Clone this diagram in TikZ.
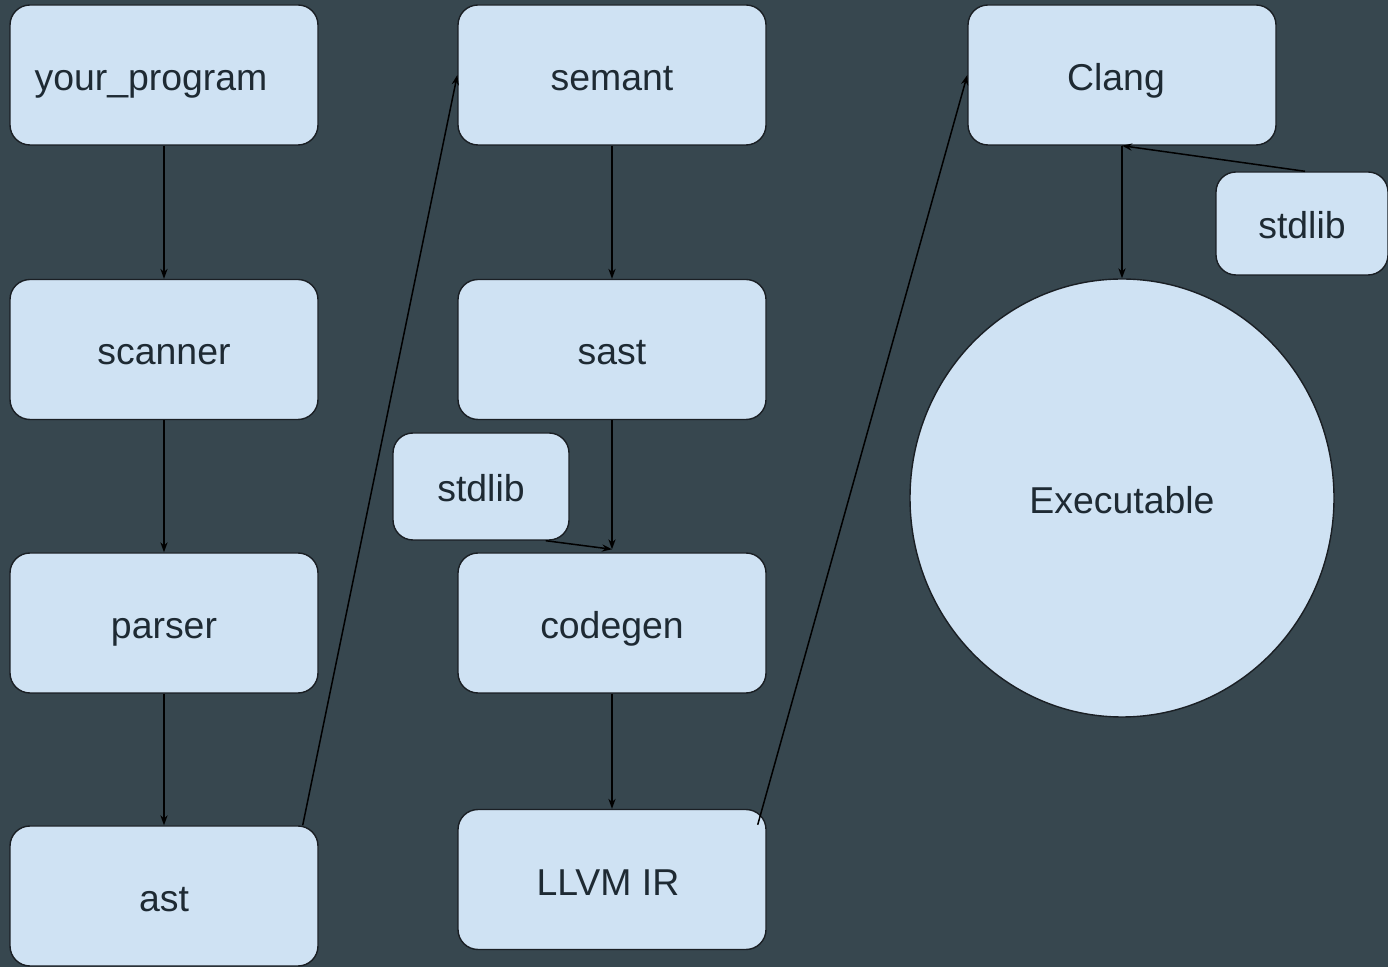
\documentclass[tikz,border=0pt]{standalone}
\usepackage{fontspec}
\setmainfont{Liberation Sans}
\usetikzlibrary{arrows.meta,shapes.geometric}
\definecolor{bgc}{HTML}{37474F}
\definecolor{boxc}{HTML}{CFE2F3}
\definecolor{txtc}{HTML}{1E2A33}
\definecolor{edgec}{HTML}{1A1F24}
\tikzset{
  blk/.style={draw=edgec, line width=0.7pt, fill=boxc, rounded corners=10pt,
    minimum width=154pt, minimum height=70pt, inner sep=0pt, text=txtc,
    text height=16pt, text depth=0.5pt,
    font=\fontsize{18.7}{22}\selectfont},
  lib/.style={blk, minimum width=88pt, minimum height=53.5pt},
  lib2/.style={blk, minimum width=86pt, minimum height=51.5pt},
  circ/.style={draw=edgec, line width=0.7pt, fill=boxc, ellipse, minimum width=212pt,
    minimum height=219pt, inner sep=0pt, text=txtc, text height=16pt, text depth=0.5pt,
    font=\fontsize{18.7}{22}\selectfont},
  arr/.style={draw=black, line width=0.75pt, -{Stealth[length=5pt,width=3.6pt]}}
}
\begin{document}
\begin{tikzpicture}[x=0.5pt,y=-0.5pt]
\useasboundingbox (0,0) rectangle (1388,967);
\fill[bgc] (0,0) rectangle (1388,967);
\begin{scope}
\clip (0,0) rectangle (1388,967);
\node[blk] (prog) at (164,75) {\hspace*{-13pt}your\_program};
\node[blk] (scan) at (164,349.5) {scanner};
\node[blk] (pars) at (164,623) {parser};
\node[blk] (ast) at (164,896) {ast};
\node[blk] (sem) at (612,75) {semant};
\node[blk] (sast) at (612,349.5) {sast};
\node[lib] (lib1) at (481,486.5) {stdlib};
\node[blk] (cg) at (612,623) {codegen};
\node[blk] (ir) at (612,879.5) {\hspace*{-4pt}LLVM IR};
\node[blk] (clang) at (1122,75) {\hspace*{-6pt}Clang};
\node[lib2] (lib2) at (1302,223.5) {stdlib};
\node[circ] (exe) at (1122,498) {Executable};
\end{scope}
\draw[arr] (prog.south) -- (scan.north);
\draw[arr] (scan.south) -- (pars.north);
\draw[arr] (pars.south) -- (ast.north);
\draw[arr] ([xshift=-8pt]ast.north east) -- (sem.west);
\draw[arr] (sem.south) -- (sast.north);
\draw[arr] (sast.south) -- ([yshift=1.5pt]cg.north);
\draw[arr] ([xshift=-12pt]lib1.south east) -- ([yshift=1.5pt]cg.north);
\draw[arr] (cg.south) -- (ir.north);
\draw[arr] ([xshift=-4.5pt,yshift=-8pt]ir.north east) -- (clang.west);
\draw[arr] ([xshift=1.5pt]lib2.north) -- (clang.south);
\draw[arr] (clang.south) -- (exe.north);
\end{tikzpicture}
\end{document}
